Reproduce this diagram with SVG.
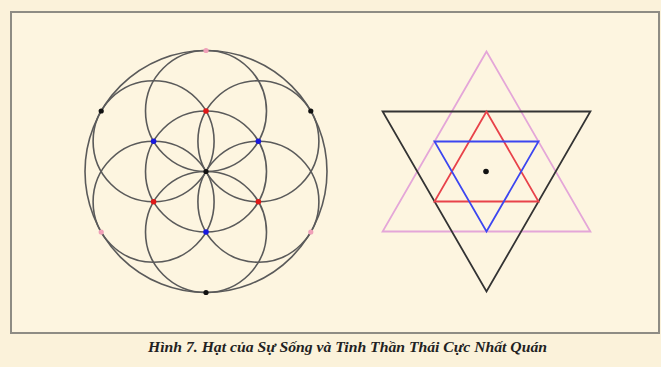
<svg xmlns="http://www.w3.org/2000/svg" width="661" height="367" viewBox="0 0 661 367">
<style>
.c{fill:none;stroke:#5a5a5a;stroke-width:1.6}
.t{fill:none;stroke-width:1.8;stroke-linejoin:miter}
.cap{font-family:"Liberation Serif","Times New Roman",serif;font-style:italic;font-weight:bold;font-size:14px;fill:#222}
</style>
<rect x="0" y="0" width="661" height="367" fill="#fbf2da"/>
<rect x="11" y="12" width="648" height="321" fill="#fdf5e0" stroke="#8e8c84" stroke-width="2"/>
<g id="seed-of-life">
<circle class="c" cx="206" cy="171.5" r="121"/>
<circle class="c" cx="206" cy="171.5" r="60.5"/>
<circle class="c" cx="206" cy="111" r="60.5"/>
<circle class="c" cx="206" cy="232" r="60.5"/>
<circle class="c" cx="258.4" cy="141.25" r="60.5"/>
<circle class="c" cx="258.4" cy="201.75" r="60.5"/>
<circle class="c" cx="153.6" cy="141.25" r="60.5"/>
<circle class="c" cx="153.6" cy="201.75" r="60.5"/>
<g id="seed-dots">
<circle cx="206" cy="50.5" r="2.6" fill="#f0a0b8"/>
<circle cx="206" cy="292.5" r="2.6" fill="#111"/>
<circle cx="101.2" cy="111" r="2.6" fill="#111"/>
<circle cx="310.8" cy="111" r="2.6" fill="#111"/>
<circle cx="101.2" cy="232" r="2.6" fill="#f0a0b8"/>
<circle cx="310.8" cy="232" r="2.6" fill="#f0a0b8"/>
<circle cx="206" cy="111" r="2.8" fill="#e01818"/>
<circle cx="153.6" cy="201.75" r="2.8" fill="#e01818"/>
<circle cx="258.4" cy="201.75" r="2.8" fill="#e01818"/>
<circle cx="153.6" cy="141.25" r="2.8" fill="#1818e0"/>
<circle cx="258.4" cy="141.25" r="2.8" fill="#1818e0"/>
<circle cx="206" cy="232" r="2.8" fill="#1818e0"/>
<circle cx="206" cy="171.5" r="2.6" fill="#111"/>
</g>
</g>
<g id="triangles">
<polygon id="pink-triangle" class="t" stroke="#e4a6d8" points="486.5,51.5 382.6,231.5 590.4,231.5"/>
<polygon id="black-triangle" class="t" stroke="#333" points="382.6,111.5 590.4,111.5 486.5,291.5"/>
<polygon id="red-triangle" class="t" stroke="#e8424a" points="486.5,111.5 434.5,201.5 538.5,201.5"/>
<polygon id="blue-triangle" class="t" stroke="#3c46f0" points="434.5,141.5 538.5,141.5 486.5,231.5"/>
<circle id="center-dot" cx="486" cy="171.5" r="2.8" fill="#111"/>
</g>
<text class="cap" x="347.5" y="352" text-anchor="middle" textLength="399" lengthAdjust="spacingAndGlyphs">Hình 7. Hạt của Sự Sống và Tinh Thần Thái Cực Nhất Quán</text>
</svg>
